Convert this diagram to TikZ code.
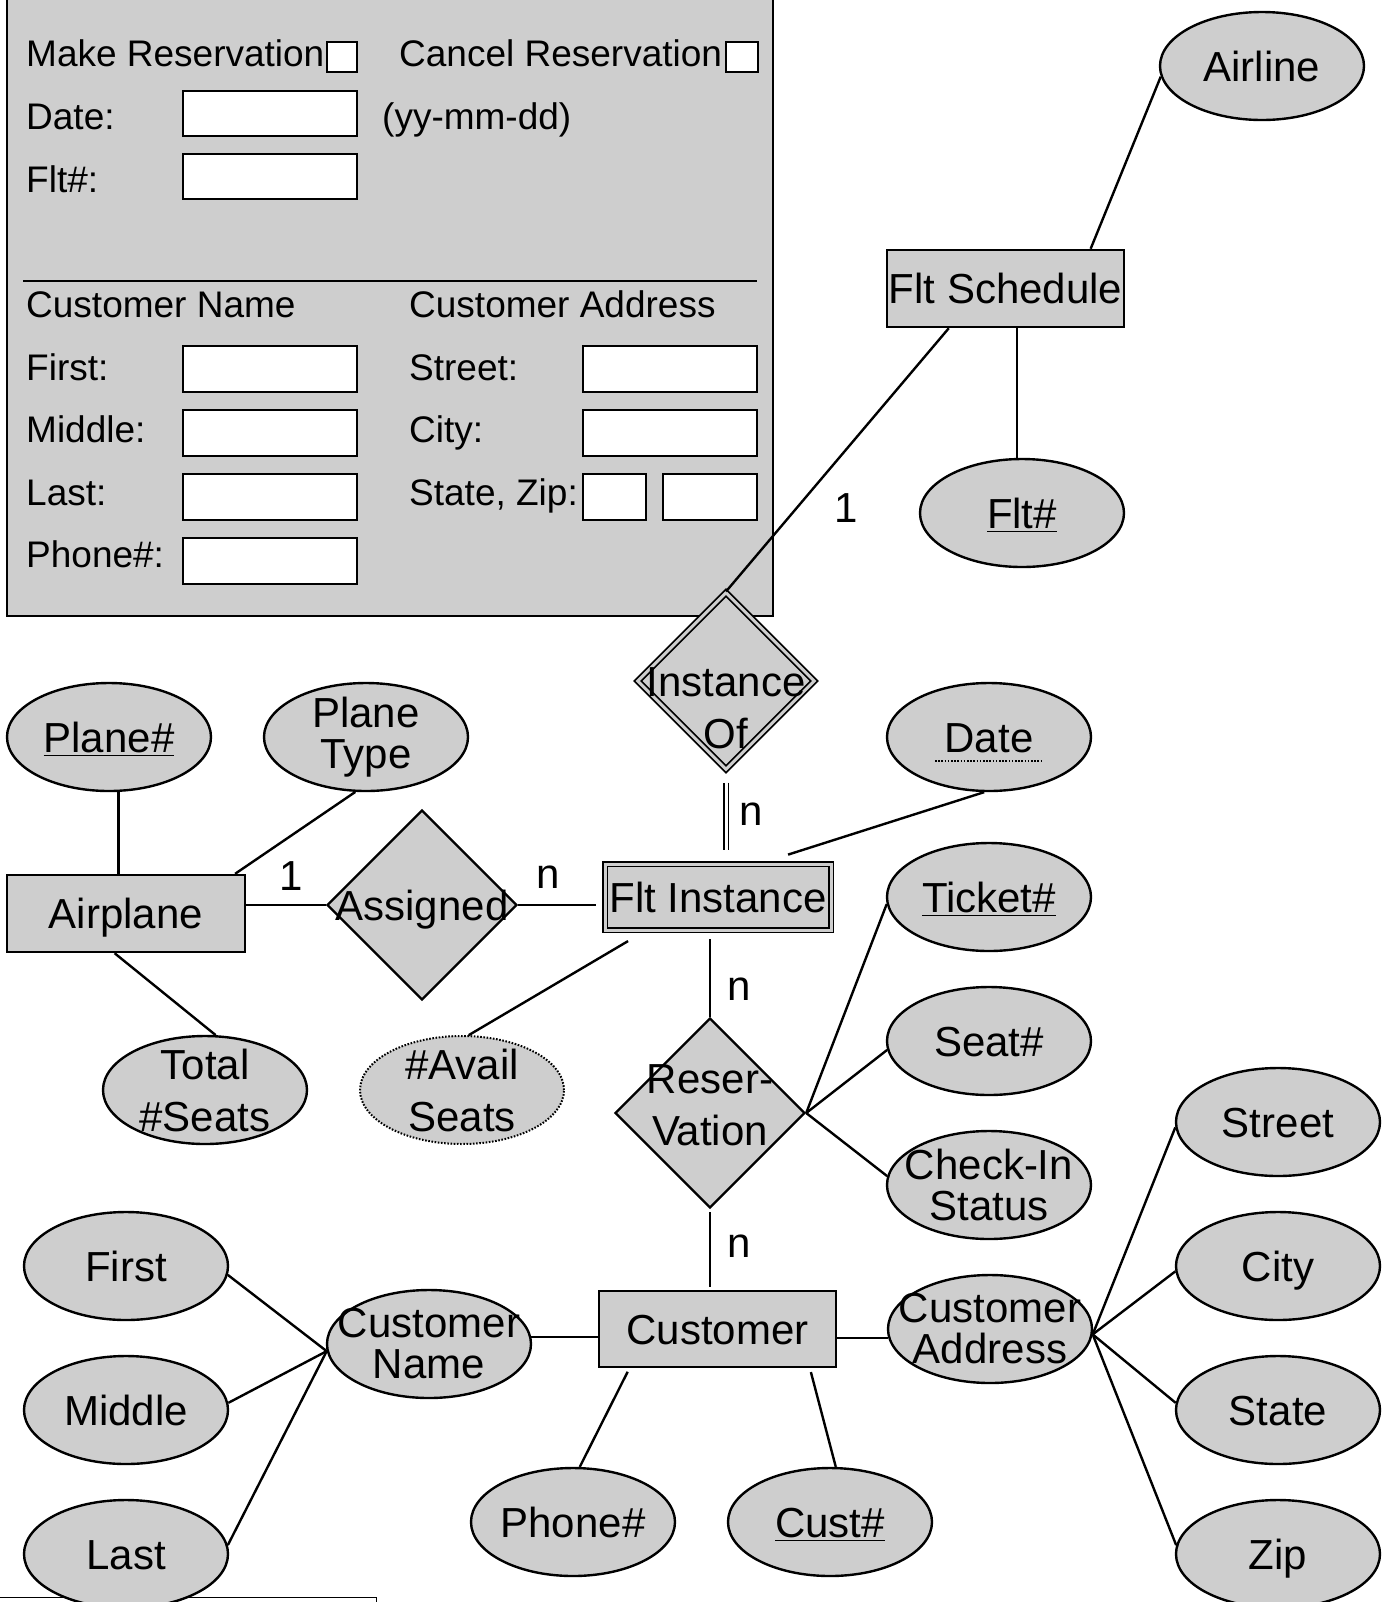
\documentclass[tikz,border=0pt]{standalone}
\usepackage{fontspec}
\setmainfont{Liberation Sans}
\usetikzlibrary{shapes.geometric}
\definecolor{boxgrey}{RGB}{206,206,206}
\begin{document}
\begin{tikzpicture}[x=0.5pt,y=-0.5pt,line width=1.2pt,
  ent/.style={rectangle,draw,fill=boxgrey,inner sep=0pt,minimum width=118.5pt,minimum height=38.5pt},
  attr/.style={ellipse,draw,fill=boxgrey,inner sep=0pt,minimum width=102pt,minimum height=54pt},
  rel/.style={diamond,draw,fill=boxgrey,inner sep=0pt,aspect=1,minimum width=95pt,minimum height=95pt},
  twin/.style={double=boxgrey,double distance=1.5pt,line width=0.9pt},
  derived/.style={dash pattern=on 0.8pt off 0.8pt,line width=1pt},
  one/.style={font=\fontsize{21}{26}\selectfont,inner sep=0pt,text height=15pt,text depth=0pt},
  two/.style={font=\fontsize{21}{26}\selectfont,inner sep=0pt,align=center},
  tight/.style={font=\fontsize{21}{20.5}\selectfont,inner sep=0pt,align=center},
  card/.style={font=\fontsize{21}{26}\selectfont,inner sep=0pt},
  form/.style={font=\fontsize{18.5}{20}\selectfont,inner sep=0pt,anchor=base west},
  field/.style={draw,fill=white},
]
\useasboundingbox (0,0) rectangle (1393,1602);

% ---- reservation screen panel ----
\draw[fill=boxgrey] (7,-20) rectangle (773,616);
\node[form] (fmake) at (25,66) {Make Reservation};
\draw[field] (327,42) rectangle (357,72);
\node[form] (fcancel) at (398,66) {Cancel Reservation};
\draw[field] (726,42) rectangle (758,72);
\node[form] (fdate) at (25,129) {Date:};
\draw[field] (183,91) rectangle (357,136);
\node[form] (fdatefmt) at (381,129) {(yy-mm-dd)};
\node[form] (fflt) at (25,192) {Flt\#:};
\draw[field] (183,154) rectangle (357,199);
\draw (23,281) -- (757,281);
\node[form] (fcname) at (25,317) {Customer Name};
\node[form] (fcaddr) at (408,317) {Customer Address};
\node[form] (ffirst) at (25,380) {First:};
\draw[field] (183,346) rectangle (357,392);
\node[form] (fmiddle) at (25,442) {Middle:};
\draw[field] (183,410) rectangle (357,456);
\node[form] (flast) at (25,505) {Last:};
\draw[field] (183,474) rectangle (357,520);
\node[form] (fphone) at (25,567) {Phone\#:};
\draw[field] (183,538) rectangle (357,584);
\node[form] (fstreet) at (408,380) {Street:};
\draw[field] (583,346) rectangle (757,392);
\node[form] (fcity) at (408,442) {City:};
\draw[field] (583,410) rectangle (757,456);
\node[form] (fstate) at (408,505) {State, Zip:};
\draw[field] (583,474) rectangle (646,520);
\draw[field] (663,474) rectangle (757,520);

% ---- frame at the lower left ----
\draw[line width=0.5pt] (0,1597) -- (376,1597) -- (376,1700);

% ---- entities, relationships, attributes ----
\node[attr,label={[one]center:Airline}] (airline) at (1262,66) {};
\node[ent,label={[one]center:Flt Schedule}] (fltsched) at (1005.5,288.5) {};
\node[attr,label={[one]center:\underline{Flt\#}}] (fltno) at (1022,513) {};
\node[rel,twin,minimum width=88.6pt,minimum height=88.6pt,
      label={[two,yshift=-13.5pt]center:{Instance\\Of}}] (instof) at (726,681) {};
\node[attr,label={[one]center:Date}] (date) at (989,737) {};
\draw[derived] ([xshift=-27pt,yshift=-12pt]date.center) -- ([xshift=27pt,yshift=-12pt]date.center);
\node[ent,twin,minimum width=113pt,minimum height=33pt,label={[one]center:Flt Instance}] (fltinst) at (718,897) {};

\node[attr,label={[one]center:\underline{Plane\#}}] (planeno) at (109,737) {};
\node[attr,label={[tight]center:{Plane\\Type}}] (planetype) at (366,737) {};
\node[ent,minimum width=119pt,label={[one]center:Airplane}] (airplane) at (126,913.5) {};
\node[rel,label={[one]center:Assigned}] (assigned) at (422,905) {};
\node[attr,label={[two]center:{Total\\\#Seats}}] (totseats) at (205,1090) {};
\node[attr,derived,label={[two]center:{\#Avail\\Seats}}] (avail) at (462,1090) {};

\node[rel,label={[two,yshift=4pt]center:{Reser-\\Vation}}] (resv) at (710,1113) {};
\node[attr,label={[one]center:\underline{Ticket\#}}] (ticket) at (989,897) {};
\node[attr,label={[one]center:Seat\#}] (seat) at (989,1041) {};
\node[attr,label={[tight]center:{Check-In\\Status}}] (checkin) at (989,1185) {};

\node[ent,minimum height=38pt,label={[one]center:Customer}] (customer) at (717.5,1329) {};
\node[attr,label={[tight]center:{Customer\\Name}}] (custname) at (429,1344) {};
\node[attr,label={[tight]center:{Customer\\Address}}] (custaddr) at (990,1329) {};
\node[attr,label={[one]center:First}] (first) at (126,1266) {};
\node[attr,label={[one]center:Middle}] (middle) at (126,1410) {};
\node[attr,label={[one]center:Last}] (last) at (126,1554) {};
\node[attr,label={[one]center:Phone\#}] (phone) at (573,1522) {};
\node[attr,label={[one]center:\underline{Cust\#}}] (custno) at (830,1522) {};
\node[attr,label={[one]center:Street}] (street) at (1278,1122) {};
\node[attr,label={[one]center:City}] (city) at (1278,1266) {};
\node[attr,label={[one]center:State}] (state) at (1278,1410) {};
\node[attr,label={[one]center:Zip}] (zip) at (1278,1554) {};

% ---- cardinalities ----
\node[card] (cardsched) at (846,508) {1};
\node[card] (cardinst) at (751,814) {n};
\node[card] (cardplane) at (291,876) {1};
\node[card] (cardassign) at (548,877) {n};
\node[card] (cardresvtop) at (739,989) {n};
\node[card] (cardresvbot) at (739,1246) {n};

% ---- connectors ----
\draw (airline.186) -- (fltsched.25);
\draw (fltsched.215) -- (instof.north);
\draw (fltno.95) -- (fltno.95 |- fltsched.south);
\draw[double=white,double distance=1.5pt,line width=0.9pt,shorten <=6pt,shorten >=6.5pt]
  (instof.south) -- (instof.south |- fltinst.north);
\draw[shorten >=14pt] (date.265) -- (fltinst.38);

\draw (planeno.280) -- (planeno.280 |- airplane.north);
\draw (planetype.259) -- (airplane.20);
\draw (airplane.254) -- (totseats.79);
\draw (assigned.west) -- (assigned.west -| airplane.east);
\draw[shorten >=4pt] (assigned.east) -- (assigned.east -| fltinst.west);
\draw[shorten <=10pt] (fltinst.205) -- (avail.83);

\draw[shorten >=4pt] (resv.north) -- (resv.north |- fltinst.south);
\draw[shorten <=1.5pt,shorten >=1.5pt] (resv.south) -- (resv.south |- customer.north);
\draw (resv.east) -- (ticket.184);
\draw (resv.east) -- (seat.185);
\draw (resv.east) -- (checkin.175);

\draw (custname.4) -- (custname.4 -| customer.west);
\draw (custaddr.185) -- (custaddr.185 -| customer.east);
\draw[shorten <=2pt] (customer.204) -- (phone.83);
\draw[shorten <=2pt] (customer.337) -- (custno.84);
\draw (custname.184) -- (first.355);
\draw (custname.184) -- (middle.4);
\draw (custname.184) -- (last.5);
\draw (custaddr.357) -- (street.183);
\draw (custaddr.357) -- (city.183);
\draw (custaddr.357) -- (state.176);
\draw (custaddr.357) -- (zip.175);
\end{tikzpicture}
\end{document}
